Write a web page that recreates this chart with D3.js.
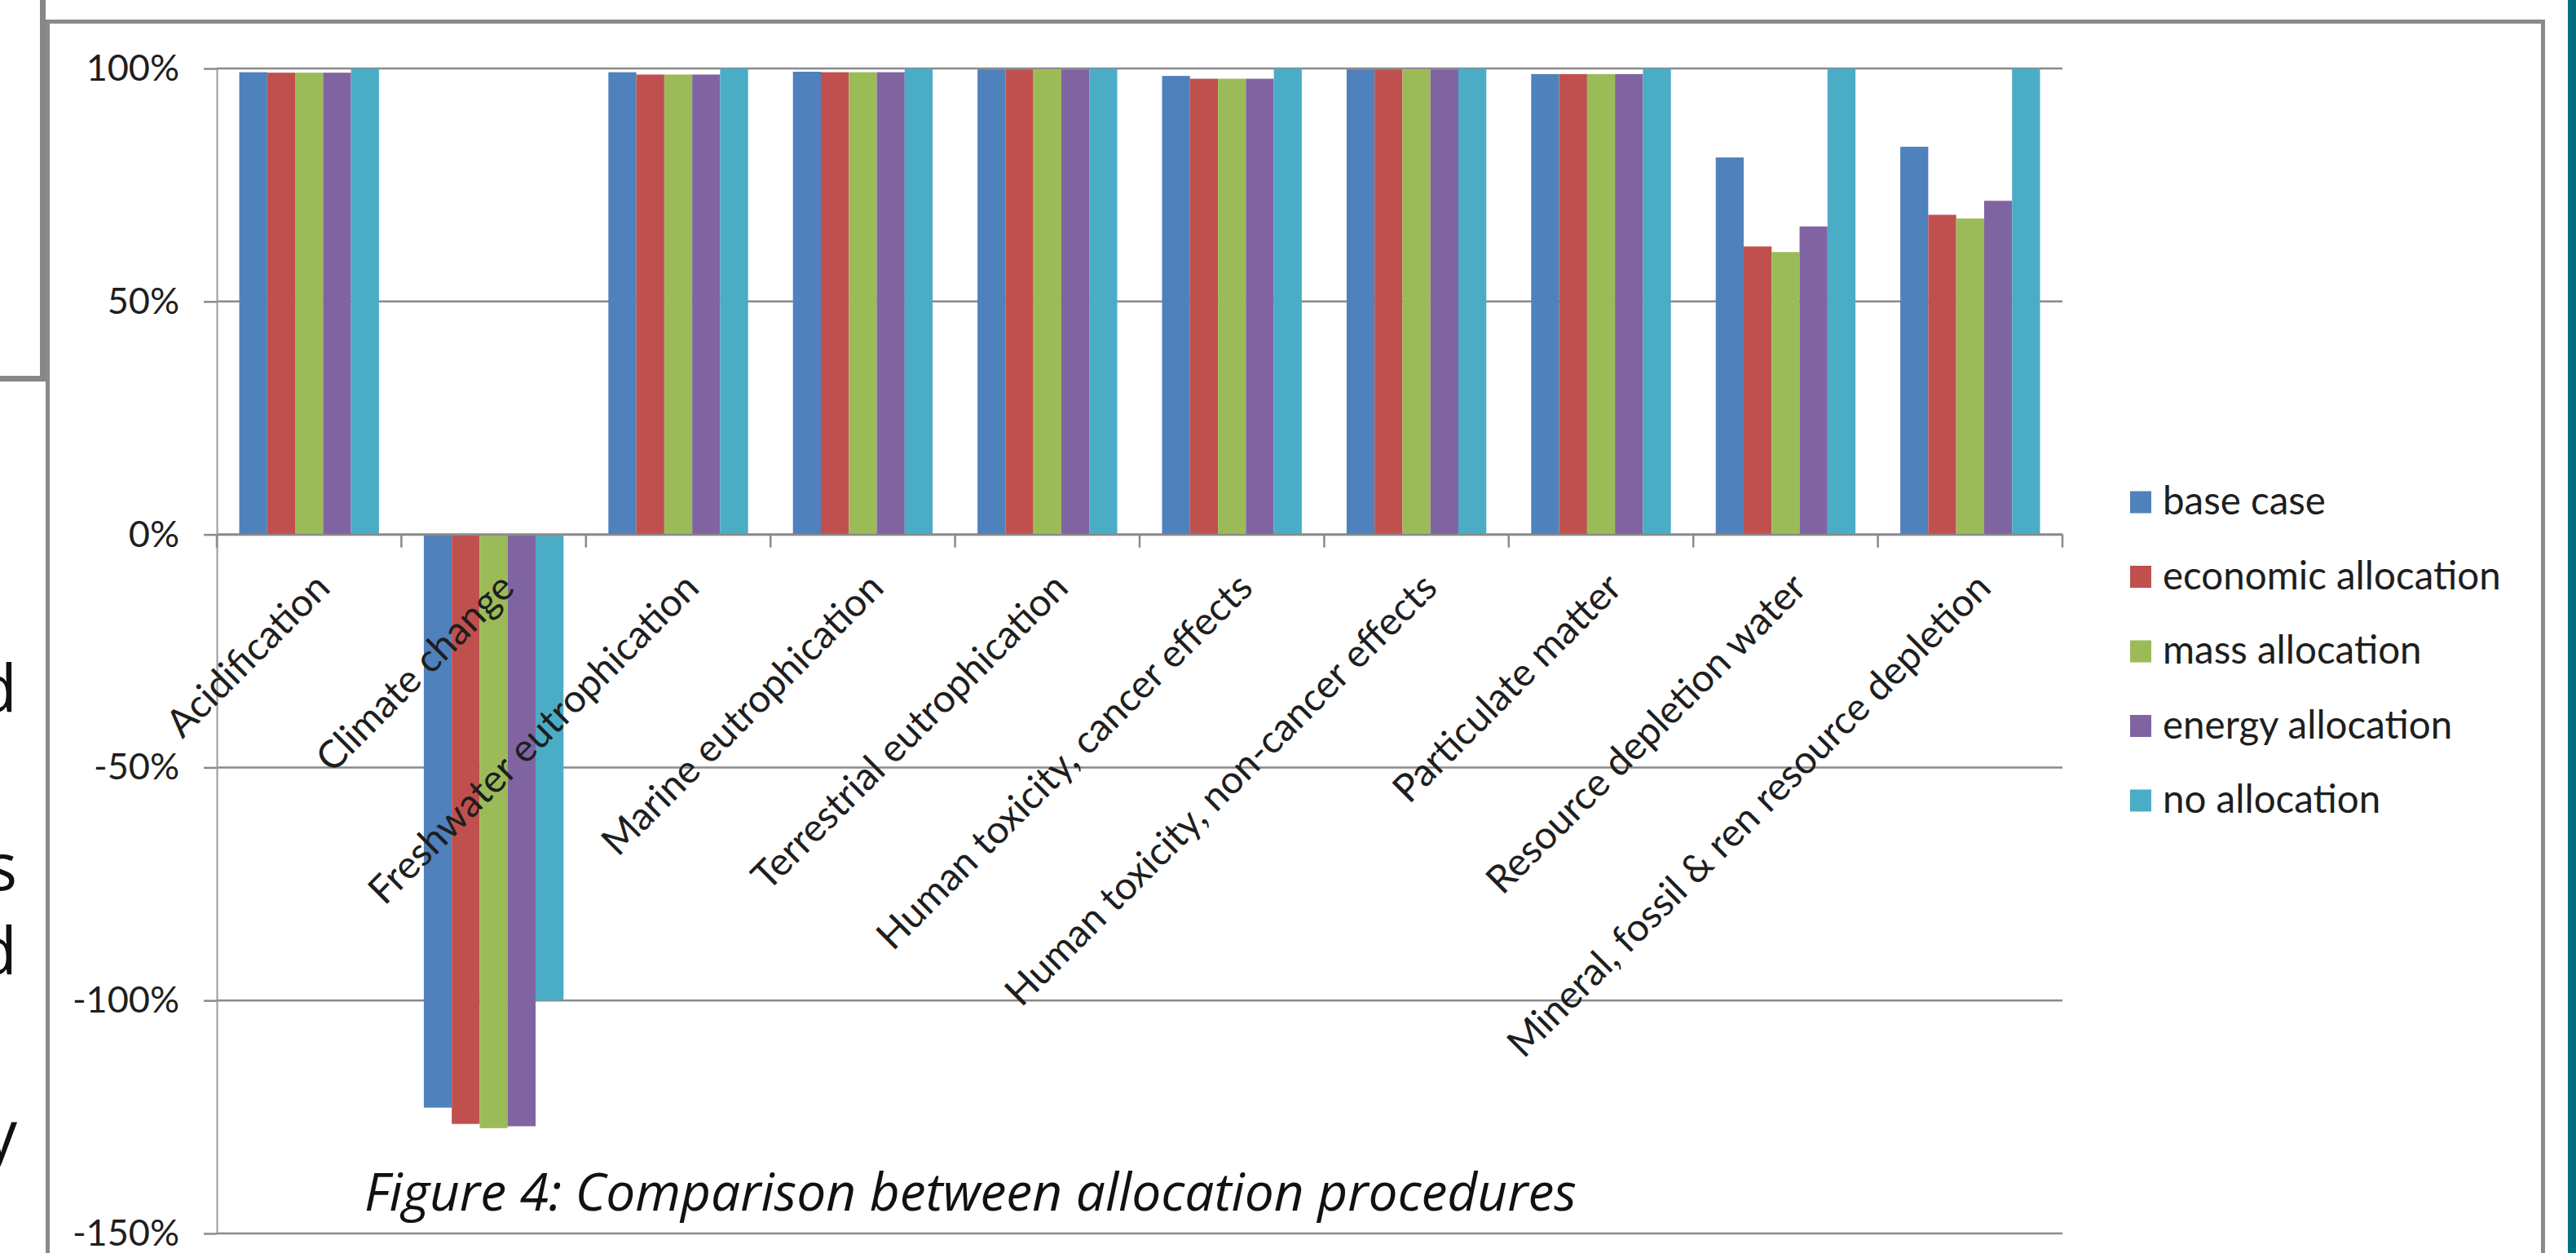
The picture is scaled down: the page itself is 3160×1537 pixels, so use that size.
<!DOCTYPE html>
<html>
<head>
<meta charset="utf-8">
<script src="https://cdn.jsdelivr.net/npm/d3@7"></script>
<style>
  html, body { margin: 0; padding: 0; background: #fff; overflow: hidden; }
  svg { display: block; }
</style>
</head>
<body>
<svg id="fig" width="3160" height="1537"></svg>
<script>
// Impact categories and the five allocation procedures (relative results, %)
const categories = [
  "Acidification",
  "Climate change",
  "Freshwater eutrophication",
  "Marine eutrophication",
  "Terrestrial eutrophication",
  "Human toxicity, cancer effects",
  "Human toxicity, non-cancer effects",
  "Particulate matter",
  "Resource depletion water",
  "Mineral, fossil & ren resource depletion"
];
const seriesNames = ["base case", "economic allocation", "mass allocation", "energy allocation", "no allocation"];

const baseCase           = [99.2, -123.0, 99.2, 99.3, 99.8, 98.4, 99.8, 98.8, 80.9, 83.2];
const economicAllocation = [99.1, -126.5, 98.7, 99.2, 99.8, 97.8, 99.8, 98.8, 61.8, 68.6];
const massAllocation     = [99.1, -127.4, 98.7, 99.2, 99.8, 97.8, 99.8, 98.8, 60.6, 67.8];
const energyAllocation   = [99.1, -127.0, 98.7, 99.2, 99.8, 97.8, 99.8, 98.8, 66.1, 71.6];
const noAllocation       = [100, -100, 100, 100, 100, 100, 100, 100, 100, 100];

const yTicks = [100, 50, 0, -50, -100, -150];
const seriesColors = ["#4F81BD", "#C0504D", "#9BBB59", "#8064A2", "#4BACC6"];
const caption = "Figure 4: Comparison between allocation procedures";
// ends of body-text lines running in from the left page column
const marginText = ["d", "s", "d", "y"];
const marginBaselines = [873, 1092, 1195, 1420];

const seriesValues = [baseCase, economicAllocation, massAllocation, energyAllocation, noAllocation];

const svg = d3.select("#fig");
const FONT = "Lato, 'Open Sans', sans-serif";
const LABEL_SIZE = 47.5;

// ---- page furniture: side box, chart frame, teal rule ----
const frameGrey = "#8a8a8a";
svg.append("path")
  .attr("d", "M0,464.5 H52.5 V0")
  .attr("fill", "none").attr("stroke", "#878787").attr("stroke-width", 7);
svg.append("path")
  .attr("d", "M58.5,1537 V26.5 H3119.5 V1537")
  .attr("fill", "none").attr("stroke", frameGrey).attr("stroke-width", 5);
svg.append("rect")
  .attr("x", 3150).attr("y", 0).attr("width", 10).attr("height", 1537)
  .attr("fill", "#006F7E");

svg.append("g").selectAll("text")
  .data(marginText)
  .join("text")
  .attr("x", 21)
  .attr("y", (d, i) => marginBaselines[i])
  .attr("text-anchor", "end")
  .attr("font-family", "'Open Sans', sans-serif")
  .attr("font-size", 80)
  .attr("fill", "#111")
  .text(d => d);

// ---- scales ----
const xLeft = 266, xRight = 2530;
const yTop = 84, yBottom = 1513;

const x = d3.scaleBand()
  .domain(categories)
  .range([xLeft, xRight])
  .paddingInner(0.243)
  .paddingOuter(0.1215);

const xs = d3.scaleBand()
  .domain(seriesNames)
  .range([0, x.bandwidth()])
  .padding(0);

const y = d3.scaleLinear()
  .domain([-150, 100])
  .range([yBottom, yTop]);

const color = d3.scaleOrdinal().domain(seriesNames).range(seriesColors);

// ---- gridlines ----
svg.append("g")
  .selectAll("line")
  .data(yTicks)
  .join("line")
  .attr("x1", xLeft).attr("x2", xRight)
  .attr("y1", d => y(d)).attr("y2", d => y(d))
  .attr("stroke", "#8a8a8a").attr("stroke-width", 2.5);

// ---- bars ----
const rows = categories.map((c, i) => ({
  category: c,
  values: seriesNames.map((s, j) => ({ series: s, value: seriesValues[j][i] }))
}));

svg.append("g")
  .selectAll("g")
  .data(rows)
  .join("g")
  .attr("transform", d => `translate(${x(d.category)},0)`)
  .selectAll("rect")
  .data(d => d.values)
  .join("rect")
  .attr("x", d => xs(d.series))
  .attr("width", xs.bandwidth())
  .attr("y", d => y(Math.max(0, d.value)))
  .attr("height", d => Math.abs(y(d.value) - y(0)))
  .attr("fill", d => color(d.series));

// ---- value axis ----
const yAxis = svg.append("g")
  .attr("transform", `translate(${xLeft},0)`)
  .call(d3.axisLeft(y)
    .tickValues(yTicks)
    .tickSize(16)
    .tickSizeOuter(0)
    .tickPadding(30)
    .tickFormat(d => d + "%"));
yAxis.select(".domain").attr("stroke", "#9a9a9a").attr("stroke-width", 2);
yAxis.selectAll(".tick line").attr("stroke", "#8a8a8a").attr("stroke-width", 2.5);
yAxis.selectAll(".tick text")
  .attr("font-family", FONT).attr("font-size", 45).attr("fill", "#1e1e1e");

// ---- category axis along zero ----
const xAxis = svg.append("g")
  .attr("transform", `translate(0,${y(0)})`)
  .call(d3.axisBottom(x).tickSize(0).tickPadding(0).tickSizeOuter(0));
xAxis.select(".domain").attr("stroke", "#8a8a8a").attr("stroke-width", 2.5);
xAxis.selectAll(".tick text")
  .attr("font-family", FONT).attr("font-size", LABEL_SIZE).attr("fill", "#1e1e1e")
  .attr("text-anchor", "end")
  .attr("x", 0).attr("y", 0).attr("dy", 0)
  .attr("transform", "translate(28,68) rotate(-45)");

// tick marks between categories
const boundaries = d3.range(categories.length + 1).map(i => xLeft + i * x.step());
xAxis.append("g")
  .selectAll("line")
  .data(boundaries)
  .join("line")
  .attr("x1", d => d).attr("x2", d => d)
  .attr("y1", 0).attr("y2", 16)
  .attr("stroke", "#8a8a8a").attr("stroke-width", 2.5);

// ---- legend ----
const legend = svg.append("g").attr("transform", "translate(2613,616)");
const item = legend.selectAll("g")
  .data(seriesNames)
  .join("g")
  .attr("transform", (d, i) => `translate(0,${i * 91.5})`);
item.append("rect")
  .attr("x", 0).attr("y", -13.5)
  .attr("width", 26).attr("height", 27)
  .attr("fill", d => color(d));
item.append("text")
  .attr("x", 40).attr("y", 15)
  .attr("font-family", FONT).attr("font-size", LABEL_SIZE).attr("fill", "#1e1e1e")
  .text(d => d);

// ---- caption ----
svg.append("text")
  .attr("x", 447).attr("y", 1485)
  .attr("font-family", "'Open Sans', sans-serif")
  .attr("font-style", "italic")
  .attr("font-size", 64)
  .attr("fill", "#111")
  .text(caption);
</script>
</body>
</html>
